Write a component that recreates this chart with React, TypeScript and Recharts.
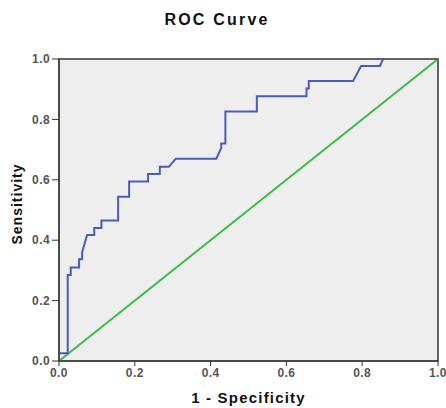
import React from "react";
import { LineChart, Line, XAxis, YAxis, ReferenceArea, Label } from "recharts";

const fpr = [0, 0, 0.023, 0.023, 0.031, 0.031, 0.053, 0.053, 0.061, 0.061, 0.074, 0.093, 0.093, 0.112, 0.112, 0.156, 0.156, 0.185, 0.185, 0.235, 0.235, 0.266, 0.266, 0.29, 0.308, 0.415, 0.428, 0.428, 0.439, 0.439, 0.522, 0.522, 0.653, 0.653, 0.659, 0.659, 0.776, 0.797, 0.847, 0.855, 1.0];
const tpr = [0, 0.026, 0.026, 0.285, 0.285, 0.31, 0.31, 0.337, 0.337, 0.36, 0.417, 0.417, 0.44, 0.44, 0.465, 0.465, 0.544, 0.544, 0.594, 0.594, 0.619, 0.619, 0.643, 0.643, 0.67, 0.67, 0.705, 0.72, 0.72, 0.826, 0.826, 0.877, 0.877, 0.902, 0.902, 0.927, 0.927, 0.977, 0.977, 1.0, 1.0];
const refX = [0, 1];
const refY = [0, 1];
const ticks = [0, 0.2, 0.4, 0.6, 0.8, 1.0];

const rocData = fpr.map((x, i) => ({ x, y: tpr[i] }));
const refData = refX.map((x, i) => ({ x, y: refY[i] }));

const FONT = "Liberation Sans, Arial, sans-serif";
const tickStyle = { fontSize: 12, fontWeight: 700, fill: "#555", fontFamily: FONT, letterSpacing: 0.4 };

export default function App() {
  return (
    <div style={{ position: "absolute", left: 0, top: 0, width: 446, height: 408, background: "#fff" }}>
      <div
        style={{
          position: "absolute",
          left: 0,
          width: 434,
          top: 11,
          textAlign: "center",
          fontFamily: FONT,
          fontWeight: 700,
          fontSize: 16,
          letterSpacing: 2.2,
          color: "#111",
        }}
      >
        ROC Curve
      </div>
      <LineChart width={446} height={408} margin={{ top: 59, right: 8, bottom: 0, left: 19 }}>
        <XAxis
          dataKey="x"
          type="number"
          domain={[0, 1]}
          ticks={ticks}
          tickFormatter={(v: number) => v.toFixed(1)}
          tick={tickStyle}
          tickSize={5}
          stroke="#333"
          height={47}
          allowDataOverflow
        >
          <Label
            value="1 - Specificity"
            position="insideBottom"
            offset={5}
            style={{ fontSize: 15, fontWeight: 700, fill: "#111", fontFamily: FONT, letterSpacing: 1.2 }}
          />
        </XAxis>
        <YAxis
          dataKey="y"
          type="number"
          domain={[0, 1]}
          ticks={ticks}
          tickFormatter={(v: number) => v.toFixed(1)}
          tick={tickStyle}
          tickSize={7}
          stroke="#333"
          width={40}
          allowDataOverflow
        >
          <Label
            content={() => (
              <text
                x={22}
                y={204}
                transform="rotate(-90 22 204)"
                textAnchor="middle"
                style={{ fontSize: 14, fontWeight: 700, fill: "#111", fontFamily: FONT, letterSpacing: 1 }}
              >
                Sensitivity
              </text>
            )}
          />
        </YAxis>
        <ReferenceArea x1={0} x2={1} y1={0} y2={1} fill="#eeeeee" fillOpacity={1} stroke="#333" strokeWidth={1.5} />
        <Line data={refData} dataKey="y" type="linear" stroke="#3dbb4b" strokeWidth={2} dot={false} isAnimationActive={false} />
        <Line data={rocData} dataKey="y" type="linear" stroke="#4a5cb8" strokeWidth={2} dot={false} isAnimationActive={false} />
      </LineChart>
    </div>
  );
}
